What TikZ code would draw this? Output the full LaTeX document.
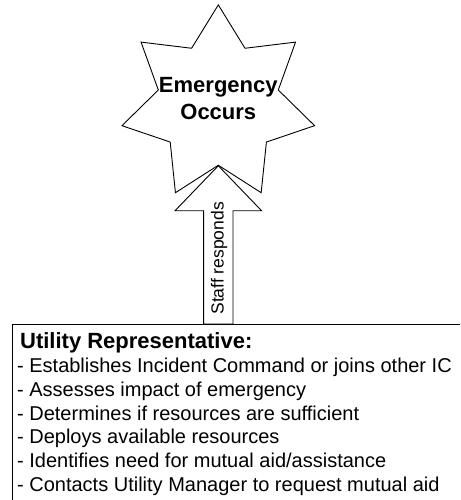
\documentclass[tikz,border=0pt]{standalone}
\usepackage{fontspec}
\setmainfont{Liberation Sans}
\usetikzlibrary{shapes.geometric,calc}
\begin{document}
\begin{tikzpicture}[x=1pt,y=-1pt,
  line width=0.9pt,
  starbox/.style={star, star points=7, star point ratio=1.606, minimum size=197.6pt, draw, inner sep=0pt},
  boxframe/.style={draw, rectangle, anchor=north west, minimum width=480pt, minimum height=200pt, inner sep=0pt},
  bigtext/.style={font=\fontsize{22}{26.7}\selectfont\bfseries, align=center, inner sep=0pt},
  listtext/.style={font=\fontsize{20}{23.7}\selectfont, align=left, inner sep=0pt, anchor=north west},
  arrowtext/.style={font=\fontsize{17.5}{20}\selectfont, rotate=90, inner sep=0pt},
  blockarrow/.style={draw, line join=miter}]
\useasboundingbox (0,0) rectangle (460,500);
\clip (0,0) rectangle (460,500);
% star
\node[starbox] (star) at (218.3,103.7) {};
\node[bigtext] (startext) at (218.3,98.3) {Emergency\\Occurs};
% box
\node[boxframe] (box) at (11.7,324) {};
\node[listtext] (boxtext) at (16.7,332.6) {{\fontsize{22}{23.7}\selectfont\bfseries\hspace{3pt}Utility Representative:}\\
- Establishes Incident Command or joins other IC\\
- Assesses impact of emergency\\
- Determines if resources are sufficient\\
- Deploys available resources\\
- Identifies need for mutual aid/assistance\\
- Contacts Utility Manager to request mutual aid};
% block arrow from box to star
\coordinate (T) at (star.inner point 4);
\coordinate (HL) at ($(T)+(-43.3,45)$);
\coordinate (HR) at ($(T)+(43.3,45)$);
\coordinate (SL) at ($(T)+(-14.65,45)$);
\coordinate (SR) at ($(T)+(14.65,45)$);
\draw[blockarrow] (T) -- (HL) -- (SL) -- (SL |- box.north) -- (SR |- box.north)
  -- (SR) -- (HR) -- cycle;
\node[arrowtext] (arrowlabel) at ($(T)+(0.7,92.6)$) {Staff responds};
\end{tikzpicture}
\end{document}
